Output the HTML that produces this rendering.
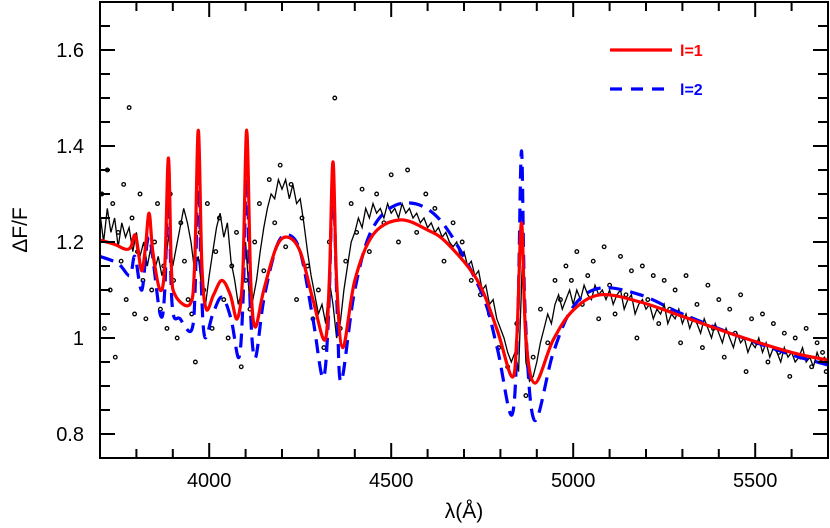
<!DOCTYPE html>
<html><head><meta charset="utf-8"><style>
html,body{margin:0;padding:0;background:#fff;}
svg{display:block;font-family:"Liberation Sans",sans-serif;}
</style></head><body>
<svg id="chart" width="830" height="528" viewBox="0 0 830 528">
<g id="plot"></g>
</svg>
<script>
const xTicks=[4000,4500,5000,5500];
const yTicks=[0.8,1,1.2,1.4,1.6];
const yTickLabels=["0.8","1","1.2","1.4","1.6"];
const redWl=[3700,3740,3770,3785,3796,3805,3815,3825,3835,3845,3865,3878,3888,3896,3906,3947,3960,3970,3980,3992,4012,4035,4058,4077,4092,4103,4114,4126,4150,4185,4216,4250,4285,4318,4330,4340,4350,4367,4400,4450,4524,4600,4653,4736,4791,4832,4845,4858,4870,4895,4945,5000,5074,5184,5300,5450,5600,5700];
const redVal=[1.204,1.195,1.185,1.19,1.215,1.18,1.14,1.19,1.26,1.18,1.10,1.15,1.375,1.15,1.09,1.07,1.15,1.433,1.15,1.06,1.09,1.12,1.09,1.04,1.13,1.433,1.12,1.023,1.10,1.19,1.21,1.18,1.08,0.996,1.12,1.367,1.12,0.98,1.12,1.215,1.246,1.225,1.198,1.121,1.017,0.919,1.0,1.24,1.0,0.906,0.996,1.058,1.09,1.075,1.045,1.005,0.97,0.954];
const blueWl=[3700,3750,3782,3796,3815,3835,3865,3878,3888,3898,3920,3952,3962,3970,3978,3988,4010,4035,4060,4082,4094,4103,4112,4126,4150,4185,4216,4250,4285,4313,4328,4340,4352,4363,4400,4450,4533,4634,4745,4791,4832,4848,4858,4868,4893,4945,5000,5074,5184,5300,5450,5600,5700];
const blueVal=[1.17,1.155,1.13,1.17,1.10,1.21,1.05,1.10,1.335,1.07,1.04,1.017,1.12,1.381,1.12,1.002,1.05,1.085,1.04,0.96,1.1,1.38,1.08,0.958,1.08,1.19,1.215,1.18,1.04,0.917,1.05,1.323,1.05,0.91,1.10,1.23,1.281,1.246,1.10,0.98,0.84,1.05,1.39,1.05,0.829,0.969,1.065,1.104,1.09,1.05,1.005,0.965,0.944];
const obsStart=3700, obsStep=10;
const obsVal=[1.26,1.20,1.27,1.22,1.25,1.19,1.24,1.21,1.23,1.18,
1.22,1.17,1.20,1.15,1.19,1.14,1.17,1.13,1.16,1.22,
1.15,1.19,1.23,1.27,1.24,1.20,1.14,1.17,1.10,1.07,
1.13,1.18,1.23,1.26,1.21,1.24,1.16,1.12,1.07,1.10,
1.20,1.09,1.08,1.12,1.18,1.23,1.27,1.30,1.29,1.33,
1.31,1.33,1.29,1.32,1.28,1.29,1.24,1.18,1.13,1.09,
1.05,1.07,1.03,1.12,1.07,1.00,1.03,1.10,1.15,1.20,
1.22,1.25,1.23,1.27,1.25,1.28,1.26,1.27,1.25,1.28,
1.26,1.27,1.25,1.28,1.26,1.27,1.25,1.26,1.24,1.25,
1.23,1.24,1.22,1.23,1.21,1.22,1.20,1.19,1.20,1.17,
1.18,1.15,1.16,1.13,1.14,1.10,1.11,1.07,1.08,1.04,
1.02,1.00,0.97,0.95,0.97,0.93,1.15,0.95,0.91,0.92,
0.95,0.99,1.02,1.05,1.03,1.07,1.09,1.06,1.08,1.10,
1.07,1.10,1.08,1.11,1.09,1.08,1.11,1.09,1.10,1.08,
1.10,1.07,1.09,1.10,1.06,1.08,1.09,1.05,1.07,1.08,
1.06,1.07,1.04,1.06,1.05,1.07,1.03,1.05,1.04,1.06,
1.03,1.05,1.02,1.04,1.03,1.01,1.04,1.02,1.00,1.03,
1.01,0.99,1.02,1.00,0.98,1.01,0.99,1.00,0.97,0.99,
0.98,1.00,0.97,0.99,0.96,0.98,0.97,0.95,0.98,0.96,
0.97,0.95,0.96,0.98,0.95,0.96,0.94,0.97,0.95,0.96,0.95];
const dotWl=[3705,3712,3720,3728,3735,3742,3750,3758,3765,3772,3780,3788,3795,3803,3810,3818,3826,3833,3842,3850,3858,3866,3875,3884,3893,3902,3912,3922,3932,3942,3952,3962,3975,3985,3995,4008,4018,4028,4040,4052,4062,4075,4088,4100,4112,4125,4138,4150,4165,4180,4195,4210,4225,4240,4255,4270,4285,4300,4315,4330,4345,4360,4375,4390,4405,4420,4440,4460,4480,4500,4520,4545,4570,4595,4620,4645,4670,4695,4720,4745,4770,4795,4820,4845,4870,4890,4910,4930,4950,4965,4980,4995,5010,5025,5040,5055,5070,5085,5100,5115,5130,5145,5160,5175,5190,5205,5220,5235,5250,5265,5280,5295,5310,5325,5340,5355,5370,5385,5400,5415,5430,5445,5460,5475,5490,5505,5520,5535,5550,5565,5580,5595,5610,5625,5640,5655,5670,5685,5695];
const dotVal=[1.30,1.02,1.35,1.10,1.28,0.96,1.22,1.16,1.32,1.08,1.48,1.25,1.05,1.18,1.30,1.12,1.04,1.24,1.10,1.20,1.28,1.06,1.15,1.02,1.30,1.12,1.00,1.24,1.16,1.08,1.05,0.95,1.22,1.10,1.28,1.02,1.18,1.25,1.08,1.00,1.15,1.22,0.94,1.12,1.06,1.20,1.28,1.14,1.33,1.24,1.36,1.19,1.32,1.08,1.25,1.15,1.04,1.10,0.98,1.20,1.50,1.02,1.16,1.28,1.22,1.31,1.18,1.30,1.24,1.34,1.20,1.35,1.22,1.30,1.27,1.16,1.24,1.20,1.12,1.09,1.05,0.98,0.94,1.03,0.88,0.96,1.06,0.99,1.12,1.08,1.15,1.12,1.18,1.07,1.13,1.16,1.04,1.19,1.11,1.05,1.17,1.09,1.14,1.00,1.15,1.08,1.13,1.03,1.12,1.06,1.10,0.99,1.13,1.04,1.07,0.98,1.11,1.02,1.08,0.96,1.06,1.01,1.09,0.93,1.04,0.99,1.05,0.95,1.03,0.97,1.01,0.92,1.00,0.96,1.02,0.94,0.99,0.97,0.93];

const X0=100,X1=828,Y0=2,Y1=458,XMIN=3700,XMAX=5700,YMIN=0.75,YMAX=1.7;
const xs=v=>X0+(v-XMIN)/(XMAX-XMIN)*(X1-X0);
const ys=v=>Y1-(v-YMIN)/(YMAX-YMIN)*(Y1-Y0);
const NS="http://www.w3.org/2000/svg";
const g=document.getElementById('plot');
function mk(t,a){const e=document.createElementNS(NS,t);for(const k in a)e.setAttribute(k,a[k]);g.appendChild(e);return e;}
function smooth(px,py){let d="M"+px[0].toFixed(1)+","+py[0].toFixed(1);
 for(let i=0;i<px.length-1;i++){const p0=i>0?i-1:i,p3=i+2<px.length?i+2:i+1;
  const c1x=px[i]+(px[i+1]-px[p0])/6,c1y=py[i]+(py[i+1]-py[p0])/6;
  const c2x=px[i+1]-(px[p3]-px[i])/6,c2y=py[i+1]-(py[p3]-py[i])/6;
  d+=" C"+c1x.toFixed(1)+","+c1y.toFixed(1)+" "+c2x.toFixed(1)+","+c2y.toFixed(1)+" "+px[i+1].toFixed(1)+","+py[i+1].toFixed(1);}
 return d;}
const clip=mk('clipPath',{id:'pc'});
const cr=document.createElementNS(NS,'rect');cr.setAttribute('x',X0);cr.setAttribute('y',Y0);cr.setAttribute('width',X1-X0);cr.setAttribute('height',Y1-Y0);clip.appendChild(cr);
dotWl.forEach((w,i)=>{const c=mk('circle',{cx:xs(w),cy:ys(dotVal[i]),r:1.8,fill:'none',stroke:'#000','stroke-width':1.3,'clip-path':'url(#pc)'});

});
let od="";obsVal.forEach((v,i)=>{od+=(i?"L":"M")+xs(obsStart+i*obsStep).toFixed(1)+","+ys(v).toFixed(1);});
const ol=mk('path',{d:od,fill:'none',stroke:'#000','stroke-width':1.3,'clip-path':'url(#pc)'});


const bl=mk('path',{d:smooth(blueWl.map(xs),blueVal.map(ys)),fill:'none',stroke:'#0000ff','stroke-width':3.2,'stroke-dasharray':'14,8','clip-path':'url(#pc)'});


const rl=mk('path',{d:smooth(redWl.map(xs),redVal.map(ys)),fill:'none',stroke:'#ff0000','stroke-width':3.2,'clip-path':'url(#pc)'});


const fr=mk('rect',{x:X0,y:Y0,width:X1-X0,height:Y1-Y0,fill:'none',stroke:'#000','stroke-width':2});


for(let w=3800;w<XMAX;w+=100){const maj=w%500===0,L=maj?15:9;
 mk('line',{x1:xs(w),x2:xs(w),y1:Y1,y2:Y1-L,stroke:'#000','stroke-width':2});
 mk('line',{x1:xs(w),x2:xs(w),y1:Y0,y2:Y0+L,stroke:'#000','stroke-width':2});}
xTicks.forEach(t=>{const e=mk('text',{x:xs(t),y:Y1+29,'text-anchor':'middle','font-size':20,fill:'#000'});e.textContent=String(t);

});
for(let k=16;k<34;k++){const v=k*0.05,maj=k%4===0,L=maj?15:10;const y=ys(v);
 mk('line',{x1:X0,x2:X0+L,y1:y,y2:y,stroke:'#000','stroke-width':2});
 mk('line',{x1:X1,x2:X1-L,y1:y,y2:y,stroke:'#000','stroke-width':2});}
yTicks.forEach((t,i)=>{const e=mk('text',{x:84,y:ys(t)+7,'text-anchor':'end','font-size':20,fill:'#000'});e.textContent=yTickLabels[i];

});
const xl=mk('text',{x:464,y:518,'text-anchor':'middle','font-size':21,fill:'#000'});xl.textContent="λ(Å)";


const yl=mk('text',{x:0,y:0,transform:'translate(27,230) rotate(-90)','text-anchor':'middle','font-size':21,fill:'#000'});yl.textContent="ΔF/F";


const l1=mk('line',{x1:610,x2:672,y1:50,y2:50,stroke:'#ff0000','stroke-width':3.2});


const t1=mk('text',{x:680,y:56,'font-size':16,'font-weight':'bold',fill:'#ff0000'});t1.textContent="l=1";


const l2=mk('line',{x1:610,x2:666,y1:89,y2:89,stroke:'#0000ff','stroke-width':3.2,'stroke-dasharray':'12,9'});


const t2=mk('text',{x:680,y:95,'font-size':16,'font-weight':'bold',fill:'#0000ff'});t2.textContent="l=2";


</script>
</body></html>
